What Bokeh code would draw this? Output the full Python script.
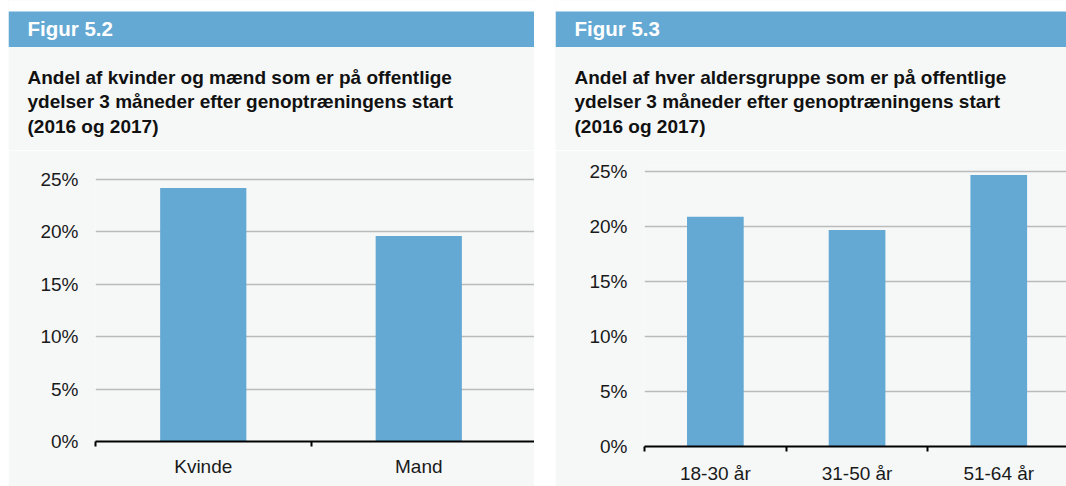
from bokeh.plotting import figure
from bokeh.layouts import row, column
from bokeh.models import Range1d, FixedTicker, PrintfTickFormatter, Spacer
from bokeh.core.properties import value
from bokeh.embed import file_html
from bokeh.resources import INLINE

# ---------------- data ----------------
categories_52 = ["Kvinde", "Mand"]
values_52 = [24.2, 19.6]

categories_53 = ["18-30 år", "31-50 år", "51-64 år"]
values_53 = [20.9, 19.7, 24.7]

y_ticks = [0, 5, 10, 15, 20, 25]

header_52 = "Figur 5.2"
header_53 = "Figur 5.3"
subtitle_52 = ["Andel af kvinder og mænd som er på offentlige",
               "ydelser 3 måneder efter genoptræningens start",
               "(2016 og 2017)"]
subtitle_53 = ["Andel af hver aldersgruppe som er på offentlige",
               "ydelser 3 måneder efter genoptræningens start",
               "(2016 og 2017)"]

# ---------------- style ----------------
BLUE = "#64a9d4"
BG = "#f6f8f8"
FONT = "Liberation Sans"
HEAD_H = 150
CHART_H = 336


def header_fig(width, header, lines):
    p = figure(width=width, height=HEAD_H,
               x_range=Range1d(0, width), y_range=Range1d(HEAD_H, 0),
               x_axis_type=None, y_axis_type=None,
               output_backend="svg", toolbar_location=None,
               min_border=0, frame_align=False,
               background_fill_color=BG, border_fill_color=BG,
               outline_line_color=None)
    p.quad(left=[0], right=[width], top=[0], bottom=[11], fill_color="white", line_color=None)
    p.quad(left=[0], right=[width], top=[11], bottom=[46.5], fill_color=BLUE, line_color=None)
    p.text(x=[19], y=[27.5], text=[header], text_font=value(FONT),
           text_font_style="bold", text_font_size="20.5px", text_color="white",
           text_baseline="alphabetic", text_align="left")
    p.text(x=[19] * len(lines), y=[76.5 + 24.7 * i for i in range(len(lines))],
           text=lines, text_font=value(FONT), text_font_style="bold",
           text_font_size="19px", text_color="#111111",
           text_baseline="alphabetic", text_align="left")
    return p


def chart_fig(width, cats, vals, b_left, b_top, b_bottom, y_end, x_end, standoff):
    xs = [i + 0.5 for i in range(len(cats))]
    p = figure(width=width, height=CHART_H,
               x_range=Range1d(0, x_end), y_range=Range1d(0, y_end),
               output_backend="svg", toolbar_location=None,
               min_border_left=b_left, min_border_right=0,
               min_border_top=b_top, min_border_bottom=b_bottom,
               frame_align=False,
               background_fill_color=BG, border_fill_color=BG,
               outline_line_color=None)
    p.vbar(x=xs, top=vals, width=0.4, bottom=0, fill_color=BLUE, line_color=None)

    p.xgrid.visible = False
    p.ygrid.ticker = FixedTicker(ticks=y_ticks)
    p.ygrid.grid_line_color = "#bababa"
    p.ygrid.grid_line_width = 1.5

    ya = p.yaxis[0]
    ya.ticker = FixedTicker(ticks=y_ticks)
    ya.formatter = PrintfTickFormatter(format="%d%%")
    ya.axis_line_color = None
    ya.major_tick_line_color = None
    ya.minor_tick_line_color = None
    ya.major_tick_out = 0
    ya.major_tick_in = 0
    ya.major_label_standoff = 17
    ya.major_label_text_font = FONT
    ya.major_label_text_font_size = "19px"
    ya.major_label_text_color = "#1a1a1a"

    xa = p.xaxis[0]
    xa.ticker = FixedTicker(ticks=xs, minor_ticks=list(range(len(cats))))
    xa.major_label_overrides = {x: c for x, c in zip(xs, cats)}
    xa.axis_line_color = "black"
    xa.axis_line_width = 2
    xa.major_tick_line_color = None
    xa.major_tick_out = 0
    xa.major_tick_in = 0
    xa.minor_tick_line_color = "black"
    xa.minor_tick_line_width = 2
    xa.minor_tick_out = 5
    xa.minor_tick_in = 0
    xa.major_label_standoff = standoff
    xa.major_label_text_font = FONT
    xa.major_label_text_font_size = "19px"
    xa.major_label_text_color = "#1a1a1a"
    return p


W1, W2 = 526, 511

h1 = header_fig(W1, header_52, subtitle_52)
c1 = chart_fig(W1, categories_52, values_52, b_left=87, b_top=24, b_bottom=45,
               y_end=25.48, x_end=2.037, standoff=9)

h2 = header_fig(W2, header_53, subtitle_53)
c2 = chart_fig(W2, categories_53, values_53, b_left=89, b_top=15, b_bottom=34,
               y_end=25.56, x_end=2.978, standoff=11)

layout = row(Spacer(width=8, height=10),
             column(h1, c1, spacing=0),
             Spacer(width=21, height=10),
             column(h2, c2, spacing=0),
             spacing=0)

open("out.html", "w").write(file_html(layout, INLINE))
